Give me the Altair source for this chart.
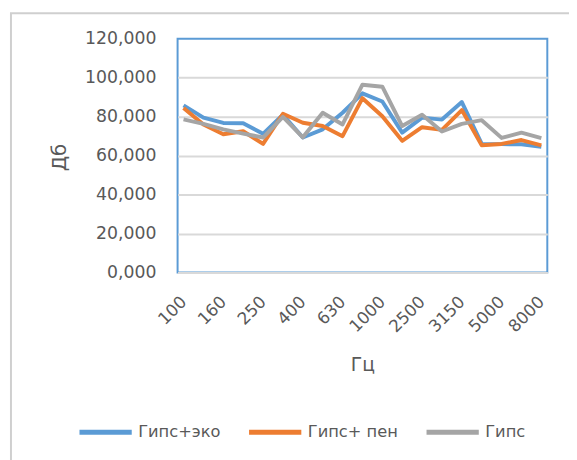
import altair as alt
import pandas as pd

categories = ["100", "125", "160", "200", "250", "315", "400", "500", "630", "800",
              "1000", "2000", "2500", "2800", "3150", "4000", "5000", "6300", "8000"]
label_values = ["100", "160", "250", "400", "630", "1000", "2500", "3150", "5000", "8000"]
series_names = ["Гипс+эко", "Гипс+ пен", "Гипс"]
series_colors = ["#5b9bd5", "#ed7d31", "#a5a5a5"]

eko = [85.8, 79.5, 76.8, 76.6, 71.2, 81.0, 69.3, 73.5, 82.0, 92.0,
       87.8, 71.8, 79.5, 78.5, 87.5, 66.0, 65.9, 65.8, 64.5]
pen = [84.5, 76.0, 71.0, 72.5, 66.0, 81.5, 76.9, 75.2, 70.0, 89.5,
       80.2, 67.6, 74.6, 73.2, 83.4, 65.3, 66.0, 68.0, 65.3]
gips = [78.6, 76.3, 73.5, 71.3, 69.3, 79.9, 69.4, 82.0, 76.0, 96.4,
        95.4, 75.2, 81.0, 72.4, 76.3, 78.2, 69.1, 71.8, 69.0]

rows = []
for name, vals in zip(series_names, [eko, pen, gips]):
    for c, v in zip(categories, vals):
        rows.append({"freq": c, "db": v, "series": name})
df = pd.DataFrame(rows)

FONT = "DejaVu Sans"
TXT = "#595959"

lines = alt.Chart(df).mark_line(strokeWidth=4, strokeJoin="round", strokeCap="butt").encode(
    x=alt.X("freq:N", sort=categories,
            scale=alt.Scale(type="point", padding=0.3),
            axis=alt.Axis(title="Гц", values=label_values, labelAngle=-45,
                          labelAlign="right", labelBaseline="middle",
                          labelPadding=27, ticks=False, grid=False,
                          domainColor="#d9d9d9", domainWidth=2, zindex=1,
                          labelFont=FONT, labelFontSize=17, labelColor=TXT,
                          titleFont=FONT, titleFontSize=19, titleColor=TXT,
                          titleFontWeight="normal", titleY=93, titleBaseline="middle")),
    y=alt.Y("db:Q", scale=alt.Scale(domain=[0, 120], nice=False),
            axis=alt.Axis(title="Дб", values=[0, 20, 40, 60, 80, 100, 120],
                          labelExpr="replace(format(datum.value, '.3f'), '.', ',')",
                          domain=False, ticks=False, labelPadding=22,
                          gridColor={"condition": {"test": "datum.value == 120", "value": "transparent"},
                                     "value": "#d9d9d9"},
                          gridWidth=2,
                          labelFont=FONT, labelFontSize=17.5, labelColor=TXT,
                          titleFont=FONT, titleFontSize=20, titleColor=TXT,
                          titleFontWeight="normal", titleX=-120, titleY=120,
                          titleAlign="center", titleBaseline="middle")),
    color=alt.Color("series:N", sort=series_names,
                    scale=alt.Scale(domain=series_names, range=series_colors),
                    legend=alt.Legend(title=None, orient="none", direction="horizontal",
                                      legendX=-102, legendY=370,
                                      symbolType="stroke", symbolSize=2809,
                                      symbolStrokeWidth=5, labelFont=FONT,
                                      labelFontSize=16.5, labelColor=TXT,
                                      labelOffset=4, columnPadding=18)),
)

frame_data = pd.DataFrame({"k": [1]})
frame = alt.Chart(frame_data).mark_rect(
    filled=False, stroke="#cfcfcf", strokeWidth=2
).encode(x=alt.value(-169), x2=alt.value(420), y=alt.value(-26), y2=alt.value(460))

chart = alt.layer(frame, lines).properties(
    width=375, height=237,
    autosize=alt.AutoSizeParams(type="none"),
    padding={"left": 172, "top": 28, "right": 22, "bottom": 187},
).configure_view(stroke="#5b9bd5", strokeWidth=2)

chart.save("out.html", embed_options={"renderer": "svg", "actions": False})
